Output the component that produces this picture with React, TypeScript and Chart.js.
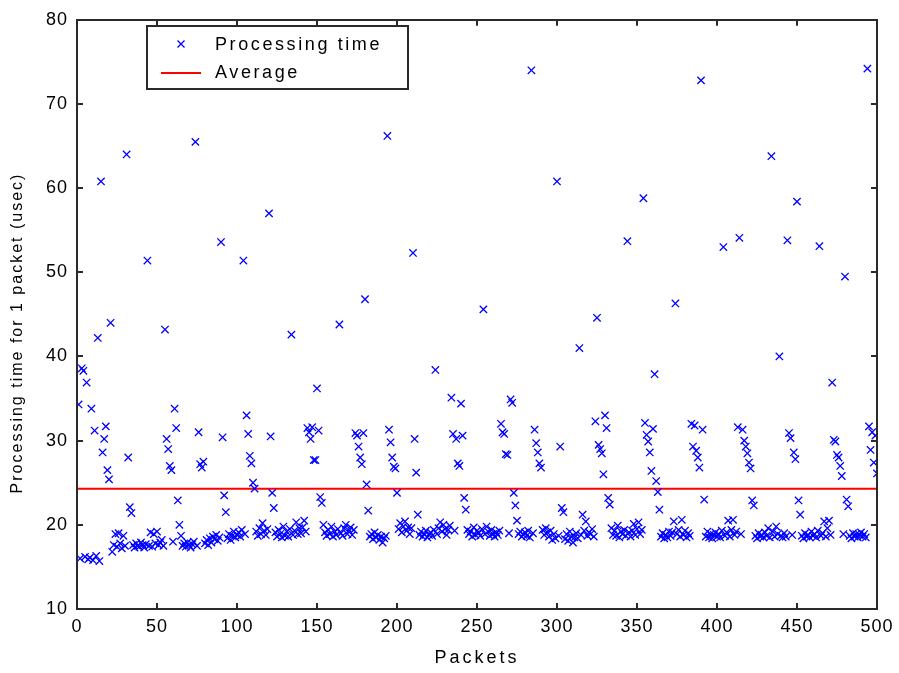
import { useEffect, useRef } from "react";
import { Chart, registerables } from "chart.js";

Chart.register(...registerables);

// Processing time (usec) for packets 1..500
const PROCESSING_TIME: number[] = [
  34.3, 16.0, 38.6, 38.3, 16.2, 36.9, 15.9, 16.1, 33.8, 15.8,
  31.2, 16.3, 42.2, 15.7, 60.8, 28.6, 30.2, 31.7, 26.5, 25.4,
  44.0, 16.8, 17.6, 18.9, 17.4, 19.0, 17.8, 17.2, 18.7, 17.5,
  64.0, 28.0, 22.1, 21.4, 17.6, 17.3, 17.8, 17.5, 17.4, 17.9,
  17.6, 17.3, 17.7, 51.4, 17.5, 19.1, 17.4, 18.9, 17.8, 19.2,
  17.6, 17.9, 18.2, 17.5, 43.2, 30.2, 29.0, 27.0, 26.5, 18.0,
  33.8, 31.5, 22.9, 20.0, 18.7, 17.5, 17.8, 17.4, 17.9, 17.6,
  17.3, 17.7, 18.0, 65.5, 17.5, 31.0, 27.2, 26.8, 27.5, 17.8,
  18.2, 17.6, 18.4, 17.9, 18.6, 18.3, 18.8, 18.1, 18.5, 53.6,
  30.4, 23.5, 21.5, 18.4, 18.9, 18.2, 18.7, 19.2, 18.5, 18.8,
  19.1, 18.6, 19.4, 51.4, 18.9, 33.0, 30.8, 28.2, 27.3, 25.0,
  24.3, 19.2, 18.7, 19.6, 18.9, 20.2, 19.3, 18.8, 19.5, 57.0,
  30.5, 23.8, 22.0, 19.1, 18.6, 19.4, 18.9, 18.5, 19.8, 18.7,
  19.2, 18.6, 19.5, 42.6, 18.8, 19.3, 20.3, 18.9, 19.6, 19.0,
  19.7, 20.5, 19.2, 31.5, 31.0, 30.2, 31.6, 27.7, 27.7, 36.2,
  31.2, 23.3, 22.6, 20.0, 19.1, 18.7, 19.4, 18.9, 19.8, 18.6,
  19.2, 18.8, 19.5, 43.8, 19.0, 18.7, 19.6, 20.0, 18.9, 19.3,
  19.7, 18.8, 19.4, 30.9, 30.6, 29.3, 28.0, 27.2, 30.9, 46.8,
  24.8, 21.7, 18.6, 18.9, 18.3, 19.1, 18.5, 18.8, 18.2, 18.6,
  17.9, 18.4, 18.7, 66.2, 31.3, 29.8, 28.0, 26.9, 26.7, 23.8,
  19.5, 20.2, 19.1, 19.8, 20.4, 19.3, 19.7, 18.9, 19.6, 52.3,
  30.2, 26.2, 21.2, 18.8, 19.2, 18.6, 18.9, 19.3, 18.5, 18.8,
  19.1, 18.7, 19.4, 38.4, 18.9, 19.6, 20.3, 19.2, 20.0, 19.5,
  18.8, 19.4, 19.9, 35.1, 30.8, 19.3, 30.2, 27.3, 27.0, 34.4,
  30.6, 23.2, 21.8, 19.4, 18.9, 19.2, 18.6, 19.7, 18.8, 19.3,
  19.0, 18.7, 19.5, 45.6, 18.9, 19.8, 19.2, 18.7, 19.4, 18.9,
  18.6, 19.1, 18.8, 19.3, 32.0, 31.0, 30.8, 28.4, 28.3, 19.0,
  34.9, 34.5, 23.8, 22.3, 20.5, 18.9, 19.2, 18.6, 18.8, 19.1,
  18.7, 19.3, 18.5, 74.0, 19.0, 31.3, 29.7, 28.6, 27.3, 26.8,
  19.4, 18.8, 19.6, 19.1, 18.6, 19.3, 18.2, 18.9, 18.4, 60.8,
  18.7, 29.3, 22.0, 21.5, 18.3, 18.9, 18.1, 19.2, 18.6, 17.9,
  18.5, 19.0, 18.4, 41.0, 18.8, 21.2, 19.3, 20.4, 18.7, 19.1,
  18.9, 19.5, 18.6, 32.3, 44.6, 29.5, 29.0, 28.5, 26.0, 33.0,
  31.5, 23.2, 22.4, 19.6, 18.8, 19.3, 18.7, 19.9, 18.5, 19.2,
  18.9, 19.4, 18.7, 53.7, 19.1, 18.6, 19.3, 20.1, 18.8, 19.5,
  20.3, 18.9, 19.4, 58.8, 32.1, 30.7, 29.9, 28.6, 26.4, 31.4,
  37.9, 25.2, 23.9, 21.8, 18.6, 19.0, 18.4, 18.8, 18.5, 19.2,
  18.7, 19.1, 20.4, 46.3, 18.9, 19.4, 18.6, 20.6, 18.8, 19.3,
  18.5, 19.0, 18.7, 32.0, 29.3, 31.8, 28.8, 28.0, 26.8, 72.8,
  31.3, 23.0, 18.6, 19.2, 18.5, 18.9, 18.4, 18.8, 19.1, 18.6,
  18.9, 18.5, 19.3, 53.0, 18.7, 19.1, 20.5, 18.6, 19.4, 20.6,
  18.8, 19.2, 31.6, 54.1, 18.9, 31.3, 30.0, 29.3, 28.5, 27.4,
  26.7, 22.9, 22.3, 18.7, 18.4, 19.0, 18.6, 18.8, 18.5, 19.1,
  18.7, 19.6, 18.5, 63.8, 19.2, 18.6, 19.8, 18.9, 40.0, 18.7,
  18.5, 19.0, 18.6, 53.8, 30.9, 30.3, 18.8, 28.6, 27.8, 58.4,
  22.9, 21.2, 18.7, 18.4, 19.0, 18.6, 18.8, 18.5, 19.2, 18.7,
  18.9, 18.5, 19.3, 53.1, 18.7, 19.0, 20.4, 18.6, 19.6, 20.5,
  18.8, 36.9, 30.1, 29.9, 28.3, 28.0, 27.0, 25.8, 18.9, 49.5,
  23.0, 22.2, 18.7, 18.4, 19.0, 18.6, 18.9, 18.5, 18.8, 19.1,
  18.6, 18.9, 18.5, 74.2, 31.7, 28.9, 31.0, 27.4, 30.6, 26.1,
];

const AVERAGE = 24.3;
const X_RANGE = [0, 500];
const X_TICKS = [0, 50, 100, 150, 200, 250, 300, 350, 400, 450, 500];
const Y_TICKS = [10, 20, 30, 40, 50, 60, 70, 80];
const SERIES_LABEL = "Processing time";
const AVERAGE_LABEL = "Average";
const X_TITLE = "Packets";
const Y_TITLE = "Processing time for 1 packet (usec)";

const FONT = "'Liberation Sans', Arial, sans-serif";
const BLUE = "#0000ff";
const RED = "#ff0000";

const matlabFrame = {
  id: "matlabFrame",
  beforeDraw(chart: any) {
    const ctx = chart.ctx;
    ctx.save();
    ctx.fillStyle = "#ffffff";
    ctx.fillRect(0, 0, chart.width, chart.height);
    ctx.restore();
    (ctx as any).letterSpacing = "1px";
  },
  afterDatasetsDraw(chart: any) {
    const ctx = chart.ctx;
    const { left, right, top, bottom } = chart.chartArea;
    const xs = chart.scales.x;
    const ys = chart.scales.y;
    ctx.save();
    (ctx as any).letterSpacing = "0px";
    ctx.strokeStyle = "#2a2a2a";
    ctx.lineWidth = 2;
    ctx.beginPath();
    ctx.rect(Math.round(left), Math.round(top), Math.round(right - left), Math.round(bottom - top));
    ctx.stroke();
    const TL = 6;
    ctx.lineWidth = 2;
    ctx.beginPath();
    X_TICKS.forEach((v) => {
      const px = Math.round(xs.getPixelForValue(v));
      ctx.moveTo(px, bottom);
      ctx.lineTo(px, bottom - TL);
      ctx.moveTo(px, top);
      ctx.lineTo(px, top + TL);
    });
    Y_TICKS.forEach((v) => {
      const py = Math.round(ys.getPixelForValue(v));
      ctx.moveTo(left, py);
      ctx.lineTo(left + TL, py);
      ctx.moveTo(right, py);
      ctx.lineTo(right - TL, py);
    });
    ctx.stroke();

    // legend box
    const bx = 147, by = 26, bw = 261, bh = 63;
    ctx.fillStyle = "#ffffff";
    ctx.fillRect(bx, by, bw, bh);
    ctx.strokeStyle = "#2a2a2a";
    ctx.lineWidth = 2;
    ctx.strokeRect(bx, by, bw, bh);
    // marker
    ctx.strokeStyle = BLUE;
    ctx.lineWidth = 1.3;
    ctx.beginPath();
    const mx = 181, my = 44, ms = 3.5;
    ctx.moveTo(mx - ms, my - ms);
    ctx.lineTo(mx + ms, my + ms);
    ctx.moveTo(mx + ms, my - ms);
    ctx.lineTo(mx - ms, my + ms);
    ctx.stroke();
    // red line
    ctx.strokeStyle = RED;
    ctx.lineWidth = 2;
    ctx.beginPath();
    ctx.moveTo(161, 73);
    ctx.lineTo(201, 73);
    ctx.stroke();
    ctx.fillStyle = "#000000";
    ctx.font = `18px ${FONT}`;
    (ctx as any).letterSpacing = "2.6px";
    ctx.textBaseline = "middle";
    ctx.textAlign = "left";
    ctx.fillText(SERIES_LABEL, 215, 45);
    ctx.fillText(AVERAGE_LABEL, 215, 73);

    // axis titles
    ctx.font = `18px ${FONT}`;
    (ctx as any).letterSpacing = "3px";
    ctx.textAlign = "center";
    ctx.fillText(X_TITLE, 477, 658);
    ctx.font = `16px ${FONT}`;
    (ctx as any).letterSpacing = "2px";
    ctx.translate(18, 333);
    ctx.rotate(-Math.PI / 2);
    ctx.fillText(Y_TITLE, 0, 0);
    ctx.restore();
  },
};

export default function App() {
  const canvasRef = useRef<HTMLCanvasElement | null>(null);

  useEffect(() => {
    if (!canvasRef.current) return;
    const points = PROCESSING_TIME.map((y, i) => ({ x: i + 1, y }));
    const chart = new Chart(canvasRef.current, {
      type: "scatter",
      data: {
        datasets: [
          {
            label: SERIES_LABEL,
            data: points,
            pointStyle: "crossRot",
            pointRadius: 5.2,
            pointHoverRadius: 5.2,
            borderColor: BLUE,
            backgroundColor: BLUE,
            borderWidth: 1.3,
          },
          {
            type: "line",
            label: AVERAGE_LABEL,
            data: [
              { x: X_RANGE[0], y: AVERAGE },
              { x: X_RANGE[1], y: AVERAGE },
            ],
            borderColor: RED,
            borderWidth: 2,
            pointRadius: 0,
            fill: false,
          } as any,
        ],
      },
      options: {
        animation: false,
        responsive: false,
        events: [],
        layout: { padding: { top: 16, right: 21, left: 0, bottom: 0 } },
        plugins: {
          legend: { display: false },
          tooltip: { enabled: false },
        },
        scales: {
          x: {
            type: "linear",
            min: X_RANGE[0],
            max: X_RANGE[1],
            afterBuildTicks: (s: any) => {
              s.ticks = X_TICKS.map((v) => ({ value: v }));
            },
            afterFit: (s: any) => {
              s.height = 64;
            },
            grid: { display: false, drawTicks: false },
            border: { display: false },
            ticks: {
              padding: 7,
              color: "#000000",
              font: { family: FONT, size: 18 },
              maxRotation: 0,
              autoSkip: false,
            },
            title: { display: false },
          },
          y: {
            type: "linear",
            min: Y_TICKS[0],
            max: Y_TICKS[Y_TICKS.length - 1],
            afterBuildTicks: (s: any) => {
              s.ticks = Y_TICKS.map((v) => ({ value: v }));
            },
            afterFit: (s: any) => {
              s.width = 77;
            },
            grid: { display: false, drawTicks: false },
            border: { display: false },
            ticks: {
              padding: 9,
              color: "#000000",
              font: { family: FONT, size: 18 },
              autoSkip: false,
            },
            title: { display: false },
          },
        },
      },
      plugins: [matlabFrame],
    });
    return () => chart.destroy();
  }, []);

  return (
    <div style={{ position: "fixed", left: 0, top: 0, width: 899, height: 673, background: "#ffffff" }}>
      <canvas ref={canvasRef} width={899} height={673} style={{ width: 899, height: 673, display: "block" }} />
    </div>
  );
}
